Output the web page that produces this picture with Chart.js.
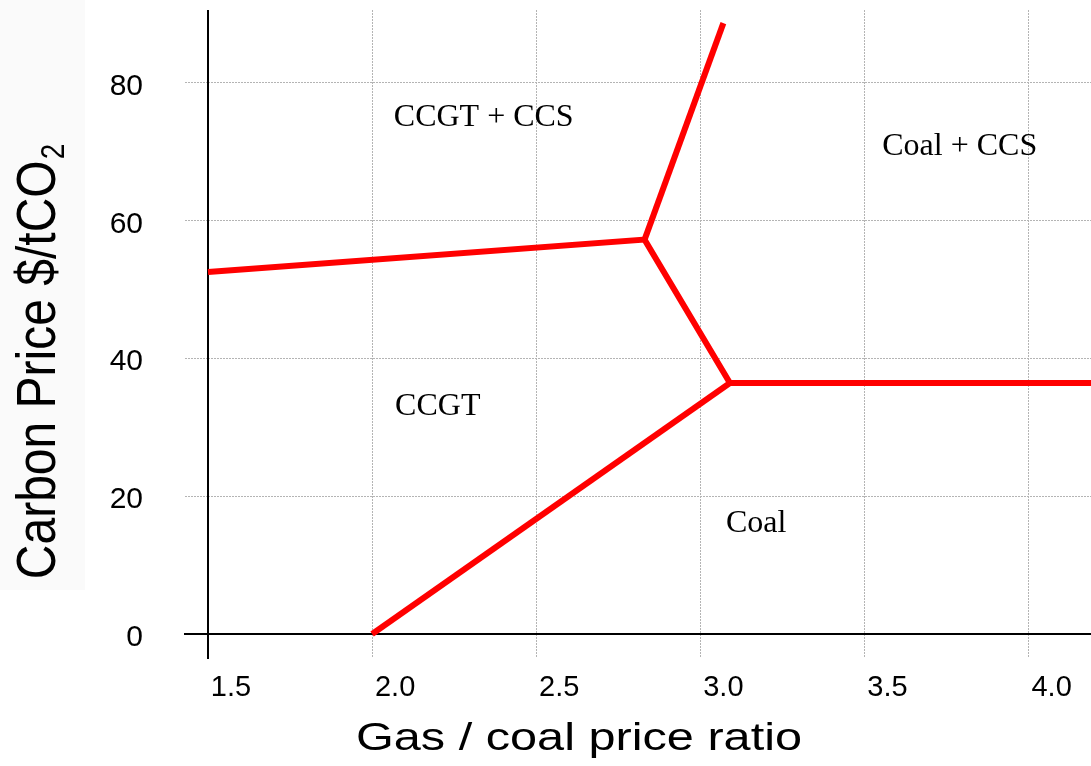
<!DOCTYPE html>
<html>
<head>
<meta charset="utf-8">
<script src="https://cdn.jsdelivr.net/npm/chart.js@4/dist/chart.umd.min.js"></script>
<style>
  body { margin: 0; background: #fff; }
  #wrap { width: 1091px; height: 766px; }
</style>
</head>
<body>
<div id="wrap"><canvas id="myChart" width="1091" height="766"></canvas></div>
<script>
// boundaries between the cheapest technology regions
var upperBoundX = [1.5, 2.83, 3.09, 4.19];
var upperBoundY = [52.5, 57.2, 36.4, 36.4];
var coalBoundX = [2.0, 3.09];
var coalBoundY = [0, 36.4];
var ccsBoundX = [2.83, 3.07];
var ccsBoundY = [57.2, 88.6];

// region labels
var regionNames = ['CCGT + CCS', 'Coal + CCS', 'CCGT', 'Coal'];
var regionX = [2.34, 3.79, 2.20, 3.17];
var regionY = [75.3, 71.1, 33.4, 16.4];

var xMin = 1.5, xMax = 4.19, xStep = 0.5;
var yMin = 0, yMax = 90.5, yStep = 20;

function pts(xs, ys) {
    return xs.map(function (x, i) { return { x: x, y: ys[i] }; });
}

var sans = '"Liberation Sans", Arial, sans-serif';
var serif = '"Liberation Serif", "Times New Roman", serif';
var gridGrey = '#b4b4b4';

var lineStyle = {
    borderColor: '#ff0000',
    borderWidth: 6,
    pointRadius: 0,
    tension: 0,
    fill: false,
    borderJoinStyle: 'miter',
    clip: false
};

var decor = {
    id: 'decor',
    beforeDraw: function (chart) {
        var ctx = chart.ctx;
        ctx.save();
        ctx.fillStyle = '#fafafa';
        ctx.fillRect(0, 0, 85, chart.scales.y.getPixelForValue(6.4));
        ctx.restore();
    },
    beforeDatasetsDraw: function (chart) {
        var ctx = chart.ctx, x = chart.scales.x, y = chart.scales.y, a = chart.chartArea;
        var tl = 24;
        ctx.save();
        ctx.strokeStyle = '#000';
        ctx.lineWidth = 2;
        ctx.beginPath();
        var x0 = Math.round(x.getPixelForValue(xMin));
        var y0 = Math.round(y.getPixelForValue(0));
        ctx.moveTo(x0, a.top);
        ctx.lineTo(x0, a.bottom + tl + 1);
        ctx.moveTo(a.left - tl, y0);
        ctx.lineTo(a.right, y0);
        ctx.stroke();
        ctx.restore();
    },
    afterDraw: function (chart) {
        var ctx = chart.ctx, x = chart.scales.x, y = chart.scales.y;
        ctx.save();
        ctx.fillStyle = '#000';

        // region labels
        var fs = 32;
        ctx.font = fs + 'px ' + serif;
        ctx.textAlign = 'center';
        ctx.textBaseline = 'alphabetic';
        regionNames.forEach(function (name, i) {
            ctx.fillText(name, x.getPixelForValue(regionX[i]), y.getPixelForValue(regionY[i]) + fs * 0.34);
        });

        // x axis title
        ctx.save();
        ctx.translate(579, 750);
        ctx.scale(1.28, 1);
        ctx.font = '38px ' + sans;
        ctx.textAlign = 'center';
        ctx.textBaseline = 'alphabetic';
        ctx.fillText('Gas / coal price ratio', 0, 0);
        ctx.restore();

        // y axis title with subscript
        ctx.save();
        ctx.translate(55, 362);
        ctx.scale(1.16, 1);
        ctx.rotate(-Math.PI / 2);
        ctx.textAlign = 'left';
        ctx.textBaseline = 'alphabetic';
        var main = 'Carbon Price $/tCO';
        ctx.font = '48px ' + sans;
        var w1 = ctx.measureText(main).width;
        ctx.font = '28px ' + sans;
        var w2 = ctx.measureText('2').width;
        var start = -(w1 + w2) / 2;
        ctx.font = '48px ' + sans;
        ctx.fillText(main, start, 0);
        ctx.font = '28px ' + sans;
        ctx.fillText('2', start + w1 + 1, 8);
        ctx.restore();

        ctx.restore();
    }
};

var ctx = document.getElementById('myChart').getContext('2d');
var myChart = new Chart(ctx, {
    type: 'line',
    data: {
        datasets: [
            Object.assign({ label: 'upper', data: pts(upperBoundX, upperBoundY) }, lineStyle),
            Object.assign({ label: 'coal', data: pts(coalBoundX, coalBoundY) }, lineStyle),
            Object.assign({ label: 'ccs', data: pts(ccsBoundX, ccsBoundY) }, lineStyle)
        ]
    },
    options: {
        responsive: false,
        animation: false,
        devicePixelRatio: 1,
        layout: { padding: { top: 10, left: 0, right: 0, bottom: 0 } },
        plugins: {
            legend: { display: false },
            tooltip: { enabled: false },
            title: { display: false }
        },
        scales: {
            x: {
                type: 'linear',
                min: xMin,
                max: xMax,
                grid: {
                    color: gridGrey,
                    lineWidth: 1,
                    drawTicks: true,
                    tickLength: 23,
                    tickColor: gridGrey,
                    tickBorderDash: [2, 1]
                },
                border: { display: false, dash: [2, 1] },
                ticks: {
                    stepSize: xStep,
                    includeBounds: false,
                    padding: 14,
                    labelOffset: 23,
                    color: '#000',
                    font: { family: sans, size: 29 },
                    maxRotation: 0,
                    callback: function (v) { return v.toFixed(1); }
                },
                afterFit: function (s) {
                    s.height = 132;
                    s.paddingLeft = 0;
                    s.paddingRight = 0;
                }
            },
            y: {
                min: yMin,
                max: yMax,
                grid: {
                    color: gridGrey,
                    lineWidth: 1,
                    drawTicks: true,
                    tickLength: 23,
                    tickColor: gridGrey,
                    tickBorderDash: [2, 1]
                },
                border: { display: false, dash: [2, 1] },
                ticks: {
                    stepSize: yStep,
                    includeBounds: false,
                    padding: 42,
                    labelOffset: 4,
                    color: '#000',
                    font: { family: sans, size: 30 }
                },
                afterFit: function (s) {
                    s.width = 208;
                    s.paddingTop = 0;
                    s.paddingBottom = 0;
                }
            }
        }
    },
    plugins: [decor]
});
</script>
</body>
</html>
